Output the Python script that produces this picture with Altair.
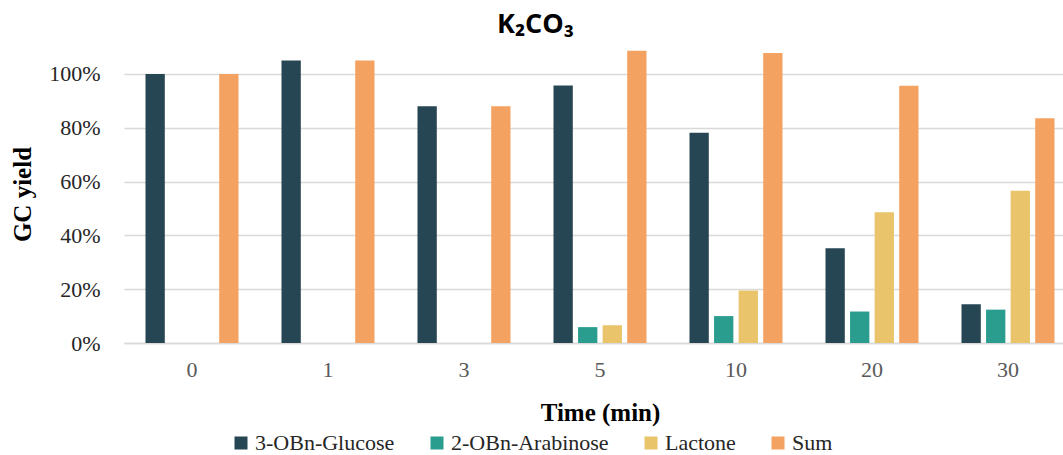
import altair as alt
import pandas as pd

# GC yields (%) over reaction time with K2CO3
times = ["0", "1", "3", "5", "10", "20", "30"]
series = ["3-OBn-Glucose", "2-OBn-Arabinose", "Lactone", "Sum"]
colors = ["#264653", "#2A9D8F", "#E9C46A", "#F4A261"]

glucose = [100, 105, 88, 95.7, 78.1, 35.2, 14.4]
arabinose = [None, None, None, 5.9, 10.0, 11.7, 12.4]
lactone = [None, None, None, 6.6, 19.5, 48.6, 56.6]
total = [100, 105, 88, 108.6, 107.8, 95.6, 83.5]

y_ticks = [0, 20, 40, 60, 80, 100]

rows = []
for name, vals in zip(series, [glucose, arabinose, lactone, total]):
    for t, v in zip(times, vals):
        if v is not None:
            rows.append({"time": t, "series": name, "yield": v})
df = pd.DataFrame(rows)

SERIF = "Liberation Serif"

chart = (
    alt.Chart(df)
    .mark_bar()
    .encode(
        x=alt.X(
            "time:N",
            sort=times,
            scale=alt.Scale(range=[0, 952], paddingInner=0.316, paddingOuter=0.158),
            axis=alt.Axis(
                title="Time (min)",
                labelAngle=0,
                labelFont=SERIF,
                labelFontSize=22,
                labelColor="#595959",
                labelPadding=16,
                ticks=False,
                domainColor="#d9d9d9",
                domainWidth=1.5,
                titleFont=SERIF,
                titleFontSize=25,
                titleFontWeight="bold",
                titleColor="#000000",
                titleX=476,
                titleY=57,
                titleAnchor="middle",
            ),
        ),
        xOffset=alt.XOffset(
            "series:N",
            sort=series,
            scale=alt.Scale(paddingInner=0.214, paddingOuter=0),
        ),
        y=alt.Y(
            "yield:Q",
            scale=alt.Scale(domain=[0, 110], nice=False),
            axis=alt.Axis(
                title="GC yield",
                values=y_ticks,
                labelExpr="datum.value + '%'",
                labelFont=SERIF,
                labelFontSize=22,
                labelColor="#262626",
                labelPadding=24,
                ticks=False,
                domain=False,
                gridColor="#d9d9d9",
                gridWidth=1.3,
                titleFont=SERIF,
                titleFontSize=25,
                titleFontWeight="bold",
                titleColor="#000000",
                titleX=-102,
                titleY=147,
                titleAngle=-90,
                titleBaseline="middle",
                titleAnchor="middle",
            ),
        ),
        color=alt.Color(
            "series:N",
            sort=series,
            scale=alt.Scale(domain=series, range=colors),
            legend=alt.Legend(
                title=None,
                orient="none",
                direction="horizontal",
                legendX=106,
                legendY=385,
                symbolType="square",
                symbolSize=169,
                symbolStrokeWidth=0,
                labelFont=SERIF,
                labelFontSize=22,
                labelColor="#262626",
                labelOffset=3,
                labelLimit=400,
                columnPadding=31,
                padding=0,
            ),
        ),
    )
    .properties(
        width=939,
        height=296,
        autosize=alt.AutoSizeParams(type="none"),
        padding={"left": 124, "top": 47, "right": 0, "bottom": 112},
        title=alt.TitleParams(
            "K₂CO₃",
            font="Open Sans",
            fontSize=27,
            fontWeight="bold",
            color="#000000",
            anchor="middle",
            dx=-58,
            offset=8,
        ),
    )
    .configure_view(stroke=None)
)

chart.save("out.html", embed_options={"renderer": "svg", "actions": False})
